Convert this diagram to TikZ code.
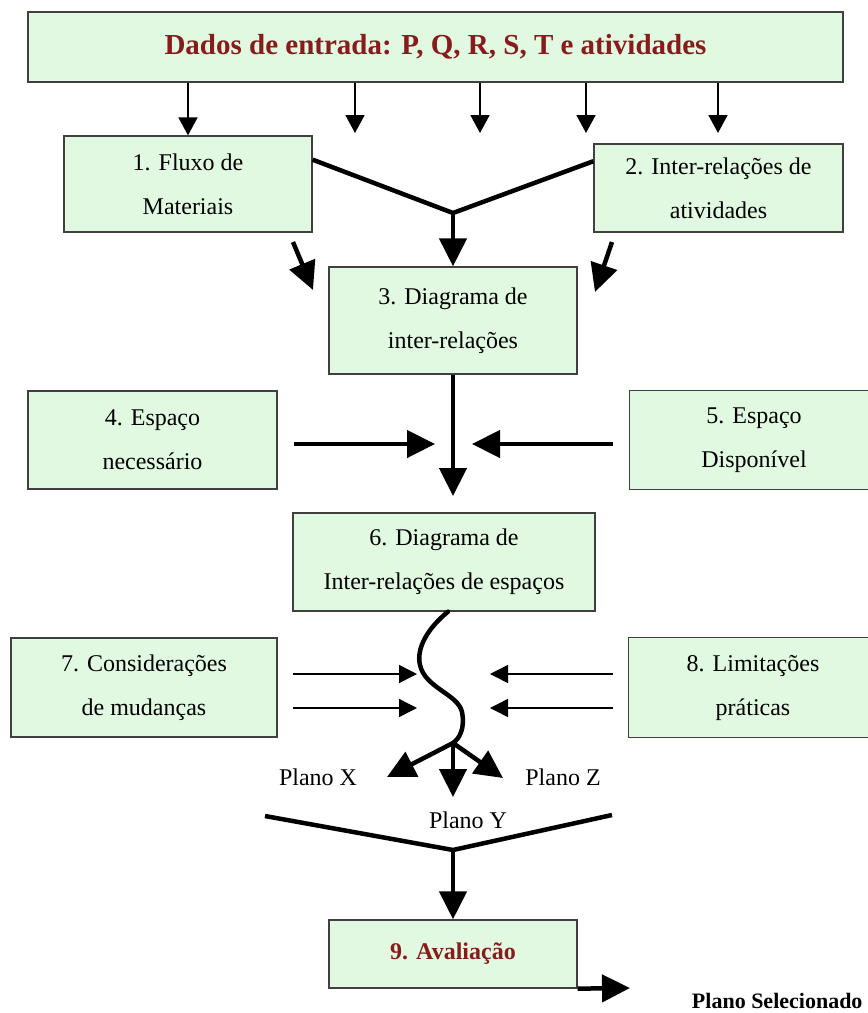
\documentclass[tikz,border=0pt]{standalone}
\usepackage{fontspec}
\setmainfont{Liberation Serif}
\usetikzlibrary{arrows.meta,calc}
\definecolor{boxgreen}{RGB}{224,249,224}
\definecolor{darkred}{RGB}{135,28,28}
\begin{document}
\begin{tikzpicture}[x=1pt,y=-1pt,
 box/.style={draw=black!75,line width=1.3pt,fill=boxgreen,align=center,inner sep=0pt,font=\fontsize{24}{44}\selectfont},
 openbox/.style={box,draw=none},
 thk/.style={line width=4.5pt,-{Triangle[width=27pt,length=28pt]}},
 thn/.style={line width=1.5pt,-{Triangle[width=18pt,length=18pt]}},
 topar/.style={line width=1.8pt,-{Triangle[width=19pt,length=18pt]}},
 thkline/.style={line width=4.5pt},
 lbl/.style={font=\fontsize{24}{28}\selectfont,anchor=base}
]
\useasboundingbox (0,0) rectangle (868,1013);

% boxes
\node[box,minimum width=815,minimum height=70,font=\fontsize{29}{34}\selectfont\bfseries,text=darkred] (b0) at (435.5,47) {Dados de entrada: P, Q, R, S, T e atividades};
\node[box,minimum width=248,minimum height=96] (b1) at (188,184) {1. Fluxo de\\Materiais};
\node[box,minimum width=249,minimum height=88] (b2) at (718.5,188) {2. Inter-relações de\\atividades};
\node[box,minimum width=248,minimum height=107] (b3) at (453,320.5) {3. Diagrama de\\inter-relações};
\node[box,minimum width=249,minimum height=98] (b4) at (152.5,440) {4. Espaço\\necessário};
\node[openbox,minimum width=248,minimum height=98] (b5) at (754,440) {5. Espaço\\Disponível};
\draw[draw=black!75,line width=1.3pt] (b5.north east) -- (b5.north west) -- (b5.south west) -- (b5.south east);
\node[box,minimum width=302,minimum height=98] (b6) at (444,562) {6. Diagrama de\\Inter-relações de espaços};
\node[box,minimum width=266,minimum height=99] (b7) at (144,687.5) {7. Considerações\\de mudanças};
\node[openbox,minimum width=248,minimum height=99] (b8) at (753,687.5) {8. Limitações\\práticas};
\draw[draw=black!75,line width=1.3pt] (b8.north east) -- (b8.north west) -- (b8.south west) -- (b8.south east);
\node[box,minimum width=248,minimum height=68,font=\fontsize{24}{28}\selectfont\bfseries,text=darkred] (b9) at (453,954) {9. Avaliação};

% top arrows
\coordinate (t2) at (355,133);
\coordinate (t3) at (480,133);
\coordinate (t4) at (586,133);
\coordinate (t5) at (718,133);
\draw[topar] (b0.south -| b1.north) -- (b1.north);
\foreach \t in {t2,t3,t4,t5} \draw[topar] (b0.south -| \t) -- (\t);

% merge 1 & 2 into 3
\coordinate (j1) at (453,213);
\draw[thkline] ($(b1.north east)!0.25!(b1.south east)$) -- (j1) -- ($(b2.north west)!0.2!(b2.south west)$);
\draw[thk] (j1) -- (b3.north);

% slanted arrows
\coordinate (s1a) at (293,242); \coordinate (s1b) at (313,290);
\coordinate (s2a) at (612,242); \coordinate (s2b) at (595,292);
\draw[thk] (s1a) -- (s1b);
\draw[thk] (s2a) -- (s2b);

% 3 down, 4 & 5 in
\coordinate (c6) at (453,496);
\draw[thk] (b3.south) -- (c6);
\coordinate (h4a) at (294,444); \coordinate (h4b) at (435,444);
\coordinate (h5a) at (613,444); \coordinate (h5b) at (472,444);
\draw[thk] (h4a) -- (h4b);
\draw[thk] (h5a) -- (h5b);

% wavy line from 6
\coordinate (w0) at ($(b6.south)+(4,0)$);
\coordinate (wb) at (453,743);
\draw[thkline,line cap=round] (w0) .. controls (428,628) and (416,648) .. (420,665)
  .. controls (425,688) and (458,694) .. (462,712)
  .. controls (465,728) and (460,738) .. (wb);

% thin arrows from 7 and 8
\coordinate (a1) at (293,674); \coordinate (a1e) at (417,674);
\coordinate (a2) at (293,708); \coordinate (a2e) at (417,708);
\coordinate (a3) at (613,674); \coordinate (a3e) at (490,674);
\coordinate (a4) at (613,708); \coordinate (a4e) at (490,708);
\draw[thn] (a1) -- (a1e);
\draw[thn] (a2) -- (a2e);
\draw[thn] (a3) -- (a3e);
\draw[thn] (a4) -- (a4e);

% branches
\coordinate (px) at (387,777);
\coordinate (py) at (453,797);
\coordinate (pz) at (503,778);
\draw[thk] (wb) -- (px);
\draw[thk] (wb) -- (py);
\draw[thk] (wb) -- (pz);
\node[lbl] (lx) at (318,785) {Plano X};
\node[lbl] (lz) at (563,785) {Plano Z};
\node[lbl] (ly) at (468,828) {Plano Y};

% V into 9
\coordinate (v1) at (265,816);
\coordinate (v2) at (453,850);
\coordinate (v3) at (612,815);
\draw[thkline] (v1) -- (v2) -- (v3);
\draw[thk] (v2) -- (b9.north);

% output
\coordinate (o1) at (630,988);
\draw[thk] (b9.south east) -- (o1);
\node[font=\fontsize{22}{26}\selectfont\bfseries,anchor=base east] (sel) at (866,1008) {Plano Selecionado};
\end{tikzpicture}
\end{document}
